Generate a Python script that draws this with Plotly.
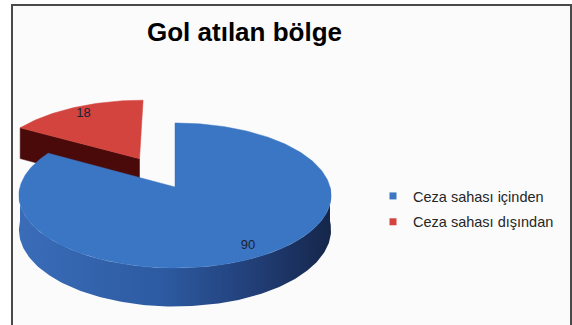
import numpy as np
import plotly.graph_objects as go

# ---- data ----
categories = ["Ceza sahası içinden", "Ceza sahası dışından"]
values = [90, 18]
label_text = [str(v) for v in values]
title_text = "Gol atılan bölge"

# ---- styling ----
top_colors = ["#3a76c4", "#d4443f"]
cut_colors = ["#1f3f75", "#4b0a0a"]
side_scales = [
    [[0, "#3a6cb8"], [0.45, "#2d5ba2"], [0.75, "#223f78"], [1, "#15264a"]],
    [[0, "#9a2320"], [1, "#4a0808"]],
]
explode = [0.0, 0.48]

W, H = 572, 325
# projection of the tilted pie (pixel space)
CX, CY = 175.0, 187.0
RX, RY = 155.0, 71.5
DEPTH = 34.0
K = 0.117  # perspective strength
LABEL_R = 0.86


def proj(u, v, z):
    u = np.asarray(u, dtype=float)
    v = np.asarray(v, dtype=float)
    f = 1.0 / (1.0 + K * v)
    return CX + RX * u * f, CY - RY * v * f + DEPTH * z * f


def arc(a0, a1):
    n = max(int(abs(a1 - a0)) + 2, 3)
    th = np.radians(np.linspace(a0, a1, n))
    return np.sin(th), np.cos(th)


fig = go.Figure()

total = float(sum(values))
edges = np.concatenate([[0.0], np.cumsum(values) / total * 360.0])

# back slices first
order = sorted(range(len(values)),
               key=lambda i: -np.cos(np.radians((edges[i] + edges[i + 1]) / 2)))

label_pos = {}
for i in order:
    a0, a1 = edges[i], edges[i + 1]
    mid = (a0 + a1) / 2
    ou = explode[i] * np.sin(np.radians(mid))
    ov = explode[i] * np.cos(np.radians(mid))

    # radial cut faces that face the viewer
    for edge, normal in ((a0, a0 - 90), (a1, a1 + 90)):
        if np.cos(np.radians(normal)) < -1e-6:
            eu, ev = np.sin(np.radians(edge)), np.cos(np.radians(edge))
            us = [ou, ou + eu, ou + eu, ou, ou]
            vs = [ov, ov + ev, ov + ev, ov, ov]
            zs = np.array([0, 0, 1, 1, 0])
            xs, ys = proj(us, vs, zs)
            fig.add_trace(go.Scatter(
                x=xs, y=ys, mode="lines", fill="toself",
                fillcolor=cut_colors[i],
                line=dict(color=cut_colors[i], width=0.5),
                hoverinfo="skip", showlegend=False))

    # outer rim (front half only)
    lo, hi = max(a0, 90.0), min(a1, 270.0)
    if hi > lo:
        su, sv = arc(lo, hi)
        us = np.concatenate([ou + su, (ou + su)[::-1]])
        vs = np.concatenate([ov + sv, (ov + sv)[::-1]])
        zs = np.concatenate([np.zeros(len(su)), np.ones(len(su))])
        xs, ys = proj(us, vs, zs)
        fig.add_trace(go.Scatter(
            x=np.append(xs, xs[0]), y=np.append(ys, ys[0]),
            mode="lines", fill="toself",
            fillgradient=dict(type="horizontal", colorscale=side_scales[i]),
            line=dict(width=0),
            hoverinfo="skip", showlegend=False))

    # top face
    su, sv = arc(a0, a1)
    us = np.concatenate([[ou], ou + su, [ou]])
    vs = np.concatenate([[ov], ov + sv, [ov]])
    xs, ys = proj(us, vs, 0)
    fig.add_trace(go.Scatter(
        x=xs, y=ys, mode="lines", fill="toself",
        fillcolor=top_colors[i],
        line=dict(color=top_colors[i], width=0.5),
        name=categories[i], hoverinfo="name", showlegend=False))

    lx, ly = proj(ou + LABEL_R * np.sin(np.radians(mid)),
                  ov + LABEL_R * np.cos(np.radians(mid)), 0)
    label_pos[i] = (float(lx), float(ly))

# value labels
fig.add_trace(go.Scatter(
    x=[label_pos[i][0] for i in range(len(values))],
    y=[label_pos[i][1] for i in range(len(values))],
    mode="text", text=label_text,
    textfont=dict(family="Liberation Sans, Arial, sans-serif", size=13,
                  color="#1c2236"),
    hoverinfo="skip", showlegend=False))

# legend entries
for i, name in enumerate(categories):
    fig.add_trace(go.Scatter(
        x=[None], y=[None], mode="markers", name=name,
        legendgroup=f"g{i}",
        marker=dict(symbol="square", size=7, color=top_colors[i])))

fig.add_annotation(
    x=244, y=32, xref="x", yref="y", text=title_text, showarrow=False,
    font=dict(family="Liberation Sans, Arial, sans-serif", size=26,
              color="#000000", weight="bold"))

# chart frame
fig.add_shape(type="rect", xref="x", yref="y", x0=12, y0=5, x1=571, y1=340,
              line=dict(color="#4a4a4a", width=2), fillcolor="#fbfbfb",
              layer="below")

fig.update_layout(
    width=W, height=H,
    margin=dict(l=0, r=0, t=0, b=0),
    paper_bgcolor="#ffffff", plot_bgcolor="#ffffff",
    xaxis=dict(range=[0, W], visible=False, fixedrange=True),
    yaxis=dict(range=[H, 0], visible=False, fixedrange=True),
    showlegend=True,
    legend=dict(
        x=373 / W, y=1 - 180 / H, xanchor="left", yanchor="top",
        bgcolor="rgba(0,0,0,0)", itemwidth=30, tracegroupgap=4,
        traceorder="grouped",
        font=dict(family="Liberation Sans, Arial, sans-serif", size=14.5,
                  color="#262626")),
)

fig.write_html("out.html")
